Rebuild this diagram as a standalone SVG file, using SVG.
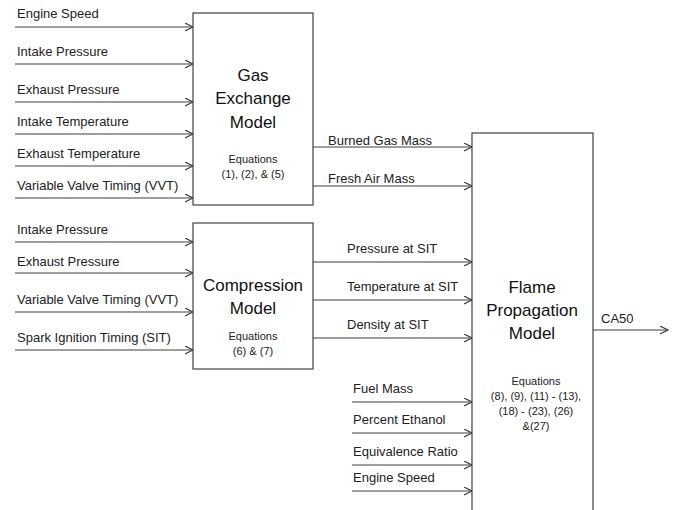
<svg xmlns="http://www.w3.org/2000/svg" width="688" height="510" viewBox="0 0 688 510">
<style>
.lbl{font-family:"Liberation Sans",Arial,sans-serif;font-size:13px;fill:#222}
.ttl{font-family:"Liberation Sans",Arial,sans-serif;font-size:17px;fill:#111;text-anchor:middle}
.eq{font-family:"Liberation Sans",Arial,sans-serif;font-size:11px;fill:#222;text-anchor:middle}
.box{fill:#fff;stroke:#404040;stroke-width:1.2}
.ln{stroke:#404040;stroke-width:1.2;fill:none;marker-end:url(#arr)}
</style>
<defs>
<marker id="arr" markerUnits="userSpaceOnUse" markerWidth="10" markerHeight="10" refX="8" refY="4" orient="auto">
<path d="M0,0 L8,4 L0,8" fill="none" stroke="#404040" stroke-width="1.2"/>
</marker>
</defs>
<rect width="688" height="510" fill="#fff"/>
<g id="connectors">
<line class="ln" x1="15" y1="27" x2="193" y2="27"/>
<line class="ln" x1="15" y1="64" x2="193" y2="64"/>
<line class="ln" x1="15" y1="102" x2="193" y2="102"/>
<line class="ln" x1="15" y1="134" x2="193" y2="134"/>
<line class="ln" x1="15" y1="166" x2="193" y2="166"/>
<line class="ln" x1="15" y1="198" x2="193" y2="198"/>
<line class="ln" x1="15" y1="242" x2="193" y2="242"/>
<line class="ln" x1="15" y1="273" x2="193" y2="273"/>
<line class="ln" x1="15" y1="312" x2="193" y2="312"/>
<line class="ln" x1="15" y1="350" x2="193" y2="350"/>
<line class="ln" x1="313" y1="147" x2="472" y2="147"/>
<line class="ln" x1="313" y1="186" x2="472" y2="186"/>
<line class="ln" x1="313" y1="262" x2="472" y2="262"/>
<line class="ln" x1="313" y1="300" x2="472" y2="300"/>
<line class="ln" x1="313" y1="338" x2="472" y2="338"/>
<line class="ln" x1="352" y1="402" x2="472" y2="402"/>
<line class="ln" x1="352" y1="433" x2="472" y2="433"/>
<line class="ln" x1="352" y1="465" x2="472" y2="465"/>
<line class="ln" x1="352" y1="491" x2="472" y2="491"/>
<line class="ln" x1="593" y1="330" x2="668" y2="330"/>
<text class="lbl" x="17" y="18">Engine Speed</text>
<text class="lbl" x="17" y="56">Intake Pressure</text>
<text class="lbl" x="17" y="94">Exhaust Pressure</text>
<text class="lbl" x="17" y="126">Intake Temperature</text>
<text class="lbl" x="17" y="158">Exhaust Temperature</text>
<text class="lbl" x="17" y="190">Variable Valve Timing (VVT)</text>
<text class="lbl" x="17" y="234">Intake Pressure</text>
<text class="lbl" x="17" y="266">Exhaust Pressure</text>
<text class="lbl" x="17" y="304">Variable Valve Timing (VVT)</text>
<text class="lbl" x="17" y="342">Spark Ignition Timing (SIT)</text>
<text class="lbl" x="328" y="145">Burned Gas Mass</text>
<text class="lbl" x="328" y="183">Fresh Air Mass</text>
<text class="lbl" x="347" y="253">Pressure at SIT</text>
<text class="lbl" x="347" y="291">Temperature at SIT</text>
<text class="lbl" x="347" y="329">Density at SIT</text>
<text class="lbl" x="353" y="393">Fuel Mass</text>
<text class="lbl" x="353" y="424">Percent Ethanol</text>
<text class="lbl" x="353" y="456">Equivalence Ratio</text>
<text class="lbl" x="353" y="482">Engine Speed</text>
<text class="lbl" x="601" y="323">CA50</text>
</g>
<g id="gas-exchange">
<rect class="box" x="193" y="13" width="120" height="192"/>
<text class="ttl" x="253" y="81">Gas</text>
<text class="ttl" x="253" y="104">Exchange</text>
<text class="ttl" x="253" y="128">Model</text>
<text class="eq" x="253" y="163">Equations</text>
<text class="eq" x="253" y="178">(1), (2), &amp; (5)</text>
</g>
<g id="compression">
<rect class="box" x="193" y="223" width="120" height="146"/>
<text class="ttl" x="253" y="291">Compression</text>
<text class="ttl" x="253" y="314">Model</text>
<text class="eq" x="253" y="340">Equations</text>
<text class="eq" x="253" y="355">(6) &amp; (7)</text>
</g>
<g id="flame-propagation">
<rect class="box" x="472" y="133" width="121" height="385"/>
<text class="ttl" x="532" y="293">Flame</text>
<text class="ttl" x="532" y="316">Propagation</text>
<text class="ttl" x="532" y="339">Model</text>
<text class="eq" x="536" y="385">Equations</text>
<text class="eq" x="536" y="400">(8), (9), (11) - (13),</text>
<text class="eq" x="536" y="415">(18) - (23), (26)</text>
<text class="eq" x="536" y="430">&amp;(27)</text>
</g>
</svg>
